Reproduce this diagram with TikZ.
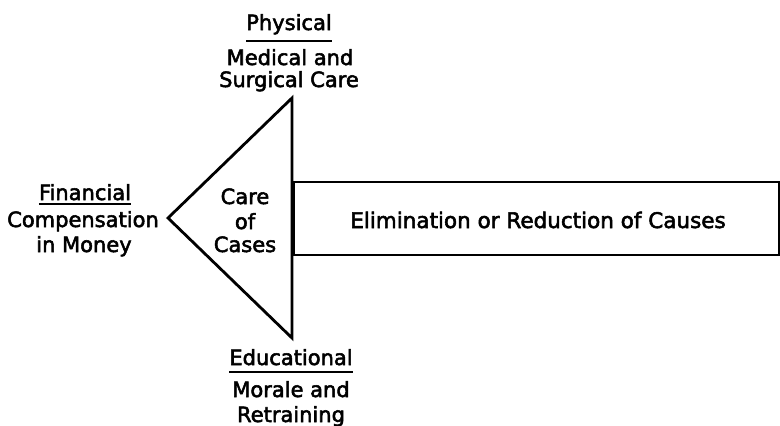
\documentclass[tikz,border=0pt]{standalone}
\usepackage{fontspec}
\setmainfont{DejaVu Sans}
\newfontfamily\lblfont{DejaVu Sans}[FakeBold=2.5]
\begin{document}
\begin{tikzpicture}[x=1pt,y=-1pt,
  lbl/.style={font=\fontsize{21}{22}\lblfont, inner sep=0pt, anchor=base},
  shapeline/.style={line width=2.8pt, line join=miter},
  ul/.style={line width=1.6pt}]
\useasboundingbox (0,0) rectangle (780,426);
% shapes
\coordinate (apex) at (168,218);
\coordinate (top) at (292,98);
\coordinate (bot) at (292,338);
\draw[shapeline] (top) -- (apex) -- (bot) -- cycle;
\node[draw, shapeline, minimum width=486pt, minimum height=73pt, inner sep=0pt, anchor=west] (box) at (292,218.5) {};
% box label
\node[lbl, font=\fontsize{21.5}{22}\lblfont] (elim) at (538,228) {Elimination or Reduction of Causes};
% top group
\node[lbl] (phys) at (289,30) {Physical};
\node[lbl] (med) at (290,65) {Medical and};
\node[lbl] (surg) at (289,87) {Surgical Care};
\draw[ul] ([yshift=-11pt]phys.base west) -- ([yshift=-11pt]phys.base east);
% left group
\node[lbl] (fin) at (85,200) {Financial};
\node[lbl] (comp) at (83,227) {Compensation};
\node[lbl] (money) at (84,252) {in Money};
\draw[ul] ([yshift=-4pt]fin.base west) -- ([yshift=-4pt]fin.base east);
% inside triangle
\node[lbl] (care) at (245,204) {Care};
\node[lbl] (of) at (245,229) {of};
\node[lbl] (cases) at (245,252) {Cases};
% bottom group
\node[lbl] (edu) at (291,365) {Educational};
\node[lbl] (mor) at (291,397) {Morale and};
\node[lbl] (retr) at (291,422) {Retraining};
\draw[ul] ([yshift=-7pt]edu.base west) -- ([yshift=-7pt]edu.base east);
\end{tikzpicture}
\end{document}
